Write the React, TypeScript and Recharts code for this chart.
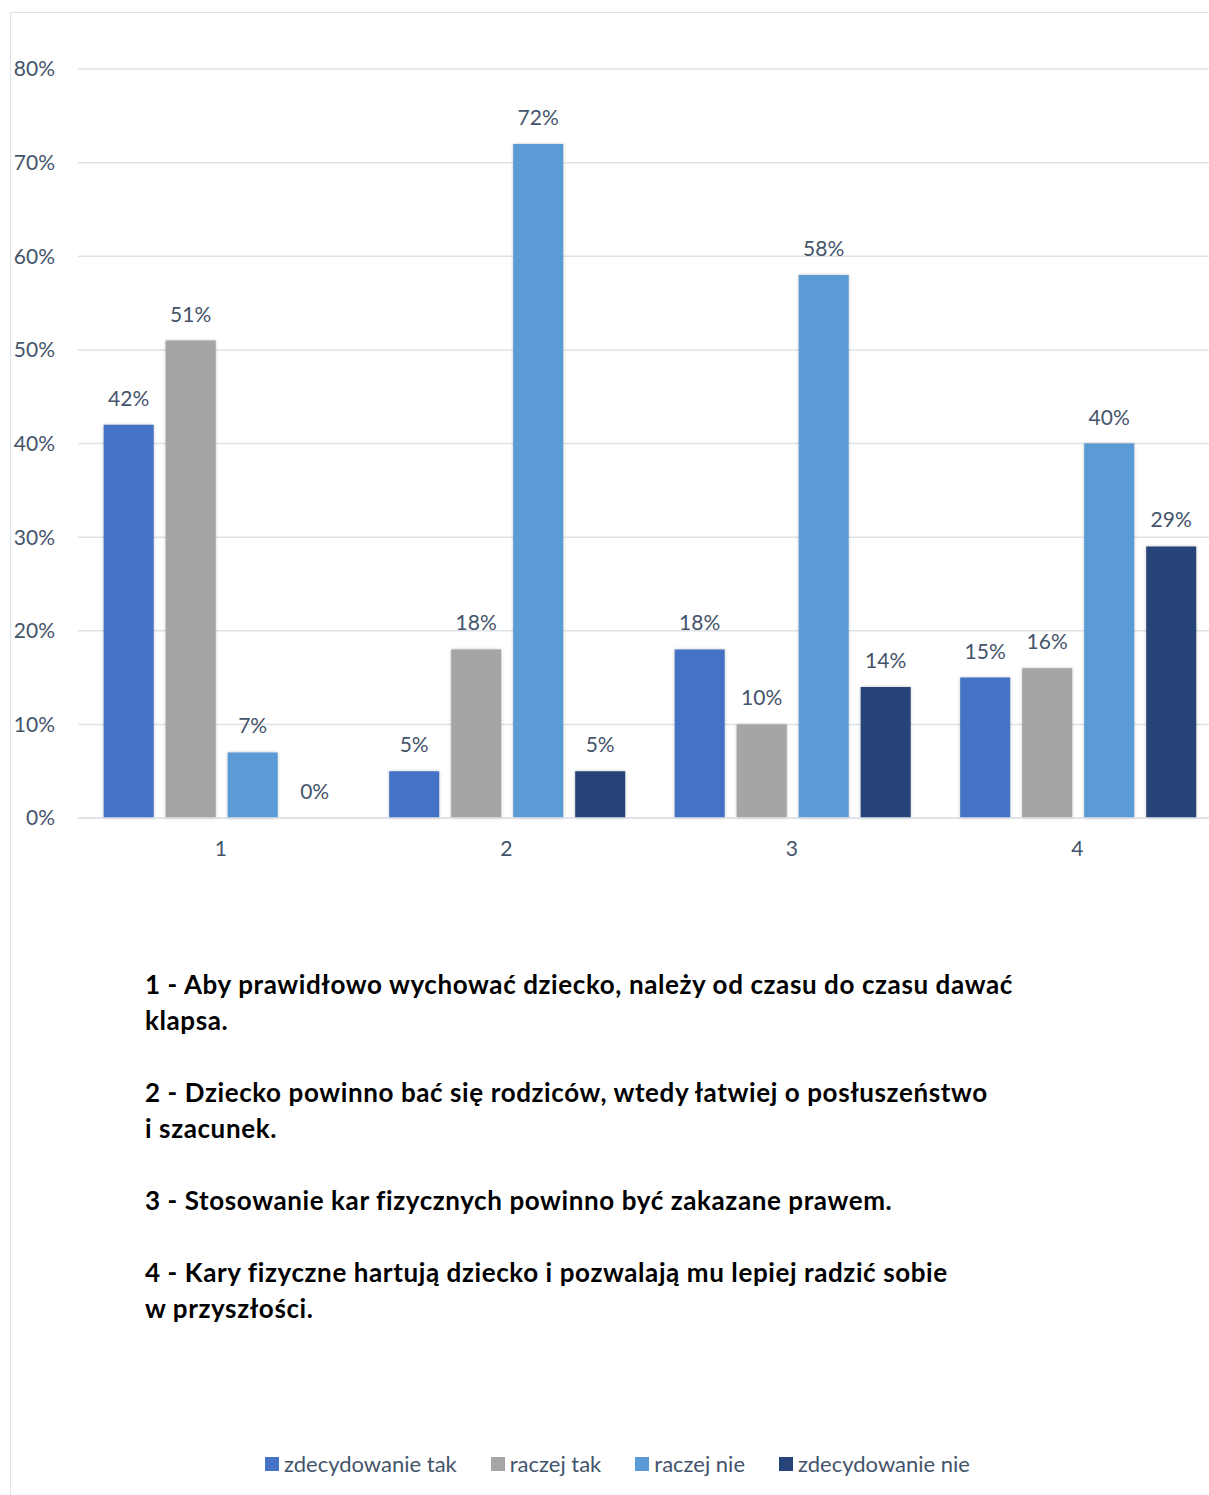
import React from "react";
import { BarChart, Bar, XAxis, YAxis, CartesianGrid, LabelList } from "recharts";

const categories = ["1", "2", "3", "4"];
const zdecydowanieTak = [0.42, 0.05, 0.18, 0.15];
const raczejTak = [0.51, 0.18, 0.1, 0.16];
const raczejNie = [0.07, 0.72, 0.58, 0.4];
const zdecydowanieNie = [0.0, 0.05, 0.14, 0.29];
const yTicks = [0, 0.1, 0.2, 0.3, 0.4, 0.5, 0.6, 0.7, 0.8];

const seriesNames = ["zdecydowanie tak", "raczej tak", "raczej nie", "zdecydowanie nie"];
const seriesColors = ["#4472C4", "#A5A5A5", "#5B9BD5", "#264478"];
const seriesKeys = ["s0", "s1", "s2", "s3"];

const statements = [
  ["1 - Aby prawidłowo wychować dziecko, należy od czasu do czasu dawać", "klapsa."],
  ["2 - Dziecko powinno bać się rodziców, wtedy łatwiej o posłuszeństwo", "i szacunek."],
  ["3 - Stosowanie kar fizycznych powinno być zakazane prawem."],
  ["4 - Kary fizyczne hartują dziecko i pozwalają mu lepiej radzić sobie", "w przyszłości."],
];

const data = categories.map((c, i) => ({
  name: c,
  s0: zdecydowanieTak[i],
  s1: raczejTak[i],
  s2: raczejNie[i],
  s3: zdecydowanieNie[i],
}));

const textColor = "#44546A";
const font = "Lato, 'Noto Sans', sans-serif";
const pct = (v: number) => `${Math.round(v * 100)}%`;

export default function App() {
  return (
    <div style={{ position: "absolute", left: 0, top: 0, width: 1209, height: 1495, overflow: "hidden", background: "#fff" }}>
      <div style={{ position: "absolute", left: 10, top: 12, width: 1260, height: 1560, borderTop: "1.5px solid #DEE2E8", borderLeft: "1.5px solid #DEE2E8", boxSizing: "border-box" }} />
      <div style={{ position: "absolute", left: 0, top: 0 }}>
        <BarChart
          width={1240}
          height={900}
          data={data}
          margin={{ top: 69, right: 20, bottom: 52, left: 0 }}
          barCategoryGap="9%"
          barGap={12}
        >
          <CartesianGrid horizontal vertical={false} stroke="#DEE2E8" strokeWidth={1.5} />
          <XAxis
            dataKey="name"
            height={30}
            axisLine={{ stroke: "#DEE2E8", strokeWidth: 1.5 }}
            tickLine={false}
            tickSize={0}
            tickMargin={23}
            tick={{ fill: textColor, fontSize: 21, fontFamily: font }}
          />
          <YAxis
            width={78}
            domain={[0, 0.8]}
            ticks={yTicks}
            tickFormatter={pct}
            axisLine={false}
            tickLine={false}
            tickSize={0}
            tickMargin={23}
            tick={{ fill: textColor, fontSize: 21, fontFamily: font }}
          />
          {seriesKeys.map((k, i) => (
            <Bar
              key={k}
              dataKey={k}
              name={seriesNames[i]}
              fill={seriesColors[i]}
              minPointSize={0.01}
              style={{ filter: "drop-shadow(0px 0px 1.5px rgba(0,0,0,0.25))" }}
              isAnimationActive={false}
            >
              <LabelList
                dataKey={k}
                position="top"
                offset={19}
                formatter={(v: any) => pct(Number(v))}
                style={{ fill: textColor, fontSize: 21, fontFamily: font, filter: "none" }}
              />
            </Bar>
          ))}
        </BarChart>
      </div>
      <div style={{ position: "absolute", left: 145, top: 966, fontFamily: font, fontWeight: 700, fontSize: 26, letterSpacing: 0.6, color: "#000", lineHeight: "36px" }}>
        {statements.map((lines, i) => (
          <div key={i} style={{ marginBottom: 36 }}>
            {lines.map((l, j) => (
              <div key={j} style={{ whiteSpace: "nowrap" }}>{l}</div>
            ))}
          </div>
        ))}
      </div>
      <div style={{ position: "absolute", left: 265, top: 1450, display: "flex", alignItems: "center", fontFamily: font, fontSize: 22, color: textColor, whiteSpace: "nowrap" }}>
        {seriesNames.map((n, i) => (
          <div key={n} style={{ display: "flex", alignItems: "center", marginRight: 34 }}>
            <div style={{ width: 14, height: 14, background: seriesColors[i], marginRight: 5 }} />
            <span>{n}</span>
          </div>
        ))}
      </div>
    </div>
  );
}
